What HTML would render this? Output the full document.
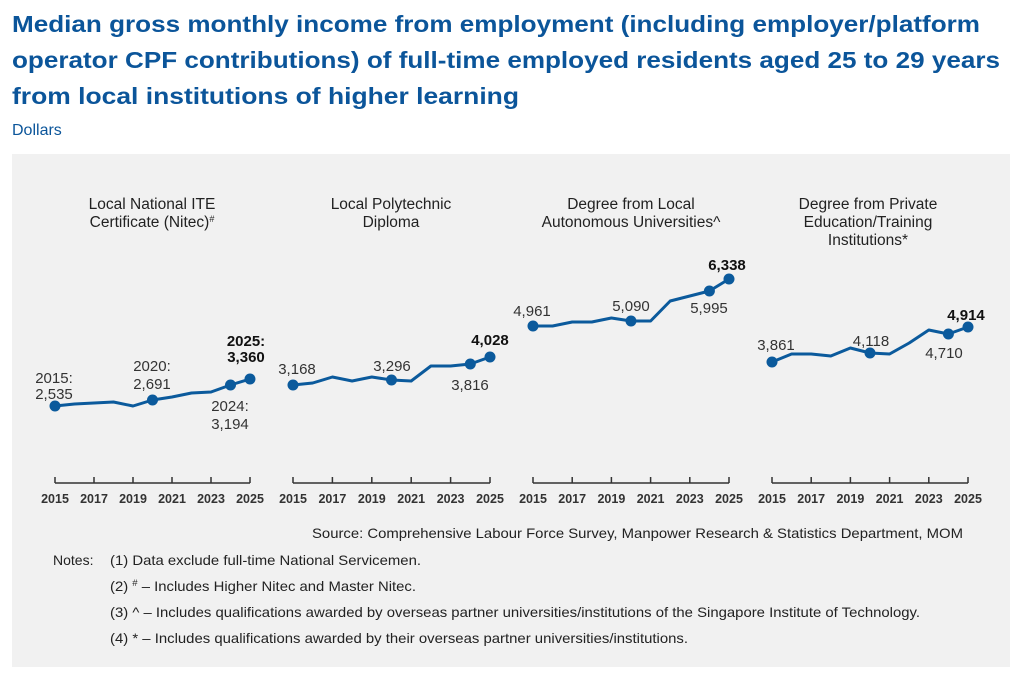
<!DOCTYPE html>
<html><head><meta charset="utf-8"><style>
html,body{margin:0;padding:0;background:#fff;}
svg{display:block;font-family:"Liberation Sans",Arial,sans-serif;}
</style></head><body>
<svg width="1024" height="682" viewBox="0 0 1024 682" xmlns="http://www.w3.org/2000/svg">
<rect x="0" y="0" width="1024" height="682" fill="#fff"/>
<g fill="#0b559a" font-weight="bold" font-size="23.5px">
<text x="12" y="32" textLength="968" lengthAdjust="spacingAndGlyphs">Median gross monthly income from employment (including employer/platform</text>
<text x="12" y="68" textLength="988" lengthAdjust="spacingAndGlyphs">operator CPF contributions) of full-time employed residents aged 25 to 29 years</text>
<text x="12" y="104" textLength="507" lengthAdjust="spacingAndGlyphs">from local institutions of higher learning</text>
</g>
<text x="12" y="135" fill="#0b559a" font-size="16px">Dollars</text>
<rect x="12" y="154" width="998" height="513" fill="#f1f1f1"/>

<g fill="#222" font-size="15.5px" text-anchor="middle">
<text x="152" y="209">Local National ITE</text>
<text x="152" y="227">Certificate (Nitec)<tspan font-size="9px" dy="-5">#</tspan></text>
<text x="391" y="209">Local Polytechnic</text>
<text x="391" y="227">Diploma</text>
<text x="631" y="209">Degree from Local</text>
<text x="631" y="227">Autonomous Universities^</text>
<text x="868" y="209">Degree from Private</text>
<text x="868" y="227">Education/Training</text>
<text x="868" y="245">Institutions*</text>
</g>

<g stroke="#333" stroke-width="1.5" fill="none">
<path d="M55 483H250M55 477V483M94 477V483M133 477V483M172 477V483M211 477V483M250 477V483"/>
<path d="M293 483H490M293 477V483M332.4 477V483M371.8 477V483M411.2 477V483M450.6 477V483M490 477V483"/>
<path d="M533 483H729M533 477V483M572.2 477V483M611.4 477V483M650.6 477V483M689.8 477V483M729 477V483"/>
<path d="M772 483H968M772 477V483M811.2 477V483M850.4 477V483M889.6 477V483M928.8 477V483M968 477V483"/>
</g>
<g fill="#333" font-size="12.5px" font-weight="bold" text-anchor="middle">
<text x="55" y="503">2015</text><text x="94" y="503">2017</text><text x="133" y="503">2019</text><text x="172" y="503">2021</text><text x="211" y="503">2023</text><text x="250" y="503">2025</text>
<text x="293" y="503">2015</text><text x="332.4" y="503">2017</text><text x="371.8" y="503">2019</text><text x="411.2" y="503">2021</text><text x="450.6" y="503">2023</text><text x="490" y="503">2025</text>
<text x="533" y="503">2015</text><text x="572.2" y="503">2017</text><text x="611.4" y="503">2019</text><text x="650.6" y="503">2021</text><text x="689.8" y="503">2023</text><text x="729" y="503">2025</text>
<text x="772" y="503">2015</text><text x="811.2" y="503">2017</text><text x="850.4" y="503">2019</text><text x="889.6" y="503">2021</text><text x="928.8" y="503">2023</text><text x="968" y="503">2025</text>
</g>

<g stroke="#0b5a9c" stroke-width="3" fill="none" stroke-linejoin="round">
<polyline points="55,406 74.5,404 94,403 113.5,402 133,406 152.5,400 172,397 191.5,393 211,392 230.5,385 250,379"/>
<polyline points="293,385 312.7,383 332.4,377 352.1,381 371.8,377 391.5,380 411.2,381 430.9,366 450.6,366 470.3,364 490,357"/>
<polyline points="533,326 552.6,326 572.2,322 591.8,322 611.4,318 631,321 650.6,321 670.2,301 689.8,296 709.4,291 729,279"/>
<polyline points="772,362 791.6,354 811.2,354 830.8,356 850.4,348 870,353 889.6,354 909.2,343 928.8,330 948.4,334 968,327"/>
</g>
<g fill="#0b5a9c">
<circle cx="55" cy="406" r="5.5"/><circle cx="152.5" cy="400" r="5.5"/><circle cx="230.5" cy="385" r="5.5"/><circle cx="250" cy="379" r="5.5"/>
<circle cx="293" cy="385" r="5.5"/><circle cx="391.5" cy="380" r="5.5"/><circle cx="470.3" cy="364" r="5.5"/><circle cx="490" cy="357" r="5.5"/>
<circle cx="533" cy="326" r="5.5"/><circle cx="631" cy="321" r="5.5"/><circle cx="709.4" cy="291" r="5.5"/><circle cx="729" cy="279" r="5.5"/>
<circle cx="772" cy="362" r="5.5"/><circle cx="870" cy="353" r="5.5"/><circle cx="948.4" cy="334" r="5.5"/><circle cx="968" cy="327" r="5.5"/>
</g>

<g fill="#333" font-size="15px" text-anchor="middle">
<text x="54" y="383">2015:</text><text x="54" y="399">2,535</text>
<text x="152" y="371">2020:</text><text x="152" y="389">2,691</text>
<text x="230" y="411">2024:</text><text x="230" y="429">3,194</text>
<text x="297" y="374">3,168</text>
<text x="392" y="371">3,296</text>
<text x="470" y="390">3,816</text>
<text x="532" y="316">4,961</text>
<text x="631" y="311">5,090</text>
<text x="709" y="313">5,995</text>
<text x="776" y="350">3,861</text>
<text x="871" y="346">4,118</text>
<text x="944" y="358">4,710</text>
</g>
<g fill="#111" font-size="15px" font-weight="bold" text-anchor="middle">
<text x="246" y="346">2025:</text><text x="246" y="362">3,360</text>
<text x="490" y="345">4,028</text>
<text x="727" y="270">6,338</text>
<text x="966" y="320">4,914</text>
</g>

<g fill="#222" font-size="14px">
<text x="312" y="538" textLength="651" lengthAdjust="spacingAndGlyphs">Source: Comprehensive Labour Force Survey, Manpower Research &amp; Statistics Department, MOM</text>
<text x="53" y="565">Notes:</text>
<text x="110" y="565" textLength="311" lengthAdjust="spacingAndGlyphs">(1) Data exclude full-time National Servicemen.</text>
<text x="110" y="591" textLength="306" lengthAdjust="spacingAndGlyphs">(2) <tspan font-size="9px" dy="-5">#</tspan><tspan dy="5"> – Includes Higher Nitec and Master Nitec.</tspan></text>
<text x="110" y="617" textLength="810" lengthAdjust="spacingAndGlyphs">(3) ^ – Includes qualifications awarded by overseas partner universities/institutions of the Singapore Institute of Technology.</text>
<text x="110" y="643" textLength="578" lengthAdjust="spacingAndGlyphs">(4) * – Includes qualifications awarded by their overseas partner universities/institutions.</text>
</g>
</svg>
</body></html>
